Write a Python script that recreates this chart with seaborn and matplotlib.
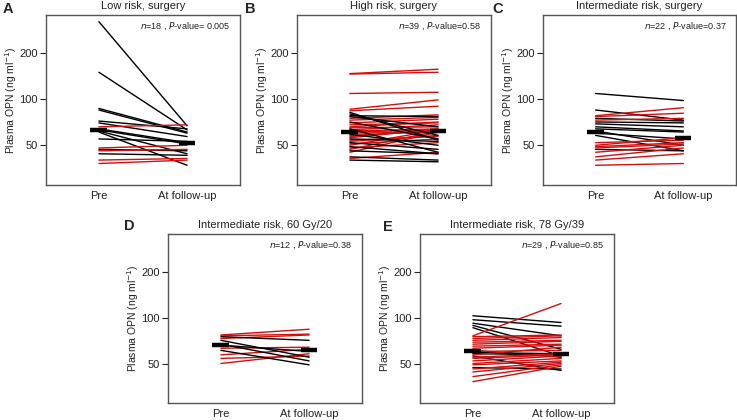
import numpy as np
import pandas as pd
import seaborn as sns
import matplotlib.pyplot as plt
from matplotlib.ticker import NullLocator

sns.set_style("ticks")
plt.rcParams['font.family'] = ['Liberation Sans', 'DejaVu Sans']

RED = '#d01010'
BLACK = '#000000'

# plasma OPN (ng/ml) before and at follow-up
a_pre = [321, 150, 87, 85, 72, 70, 66, 64, 63, 62, 61, 55, 48, 47, 46, 44, 40, 38]
a_post = [67, 63, 61, 60, 64, 57, 68, 52, 51, 44, 37, 53, 50, 46, 47, 43, 41, 40]

b_pre = [147, 146, 109, 86, 84, 82, 80, 78, 77, 75, 73, 71, 70, 68, 66, 65, 64, 63, 62, 61,
         60, 59, 58, 57, 56, 55, 54, 53, 52, 51, 50, 49, 48, 47, 46, 45, 42, 41, 40]
b_post = [157, 150, 111, 99, 90, 54, 58, 77, 66, 79, 76, 55, 74, 70, 71, 66, 45, 68, 64, 63,
          61, 50, 62, 63, 64, 53, 57, 58, 47, 55, 63, 44, 52, 62, 44, 61, 40, 45, 39]

c_pre = [109, 85, 78, 77, 75, 73, 71, 69, 66, 64, 62, 60, 58, 52, 50, 49, 48, 47, 45, 42, 40, 37]
c_post = [98, 73, 88, 81, 72, 75, 70, 66, 62, 61, 50, 55, 46, 54, 56, 52, 51, 46, 50, 48, 44, 38]

d_pre = [77, 76, 75, 73, 71, 67, 66, 63, 61, 57, 54, 50]
d_post = [84, 78, 71, 77, 55, 52, 60, 64, 49, 62, 56, 58]

e_pre = [103, 97, 92, 89, 86, 76, 75, 73, 71, 69, 67, 65, 63, 61, 60, 59, 58, 57, 56, 55,
         54, 52, 50, 49, 47, 46, 44, 41, 38]
e_post = [93, 88, 76, 62, 56, 124, 77, 76, 74, 71, 70, 67, 66, 55, 61, 58, 57, 64, 45, 58,
          57, 56, 54, 52, 46, 51, 50, 49, 48]

panels = [
    ('A', 'Low risk, surgery', a_pre, a_post, '18', '= 0.005'),
    ('B', 'High risk, surgery', b_pre, b_post, '39', '=0.58'),
    ('C', 'Intermediate risk, surgery', c_pre, c_post, '22', '=0.37'),
    ('D', 'Intermediate risk, 60 Gy/20', d_pre, d_post, '12', '=0.38'),
    ('E', 'Intermediate risk, 78 Gy/39', e_pre, e_post, '29', '=0.85'),
]

# axes boxes in pixels: left, top, width, height (figure 737x420)
W, H = 737, 420
boxes = [(46, 15, 194, 170), (297, 15, 194, 170), (543, 15, 193, 170),
         (168, 234, 194, 169), (420, 234, 194, 169)]
letter_pos = [(3, 9), (245, 9), (492, 9), (124, 226), (383, 227)]

fig = plt.figure(figsize=(W / 100, H / 100), dpi=100)

for (letter, title, pre, post, n, p), (l, t, w, h), (lx, ly) in zip(panels, boxes, letter_pos):
    ax = fig.add_axes([l / W, 1 - (t + h) / H, w / W, h / H])
    rows = []
    for i, (v0, v1) in enumerate(zip(pre, post)):
        d = 'up' if v1 > v0 else 'down'
        rows.append({'id': i, 'x': 1, 'val': v0, 'dir': d})
        rows.append({'id': i, 'x': 2, 'val': v1, 'dir': d})
    df = pd.DataFrame(rows)
    sns.lineplot(data=df, x='x', y='val', units='id', estimator=None, hue='dir',
                 palette={'up': RED, 'down': BLACK}, linewidth=1.0, legend=False, ax=ax)
    # median bars
    ax.hlines([np.median(pre), np.median(post)], [0.9, 1.91], [1.09, 2.09],
              colors='black', linewidth=3.2, zorder=5)

    ax.set_yscale('log')
    ax.set_ylim(27.5, 355)
    ax.set_xlim(0.4, 2.6)
    ax.set_yticks([50, 100, 200])
    ax.set_yticklabels(['50', '100', '200'])
    ax.yaxis.set_minor_locator(NullLocator())
    ax.set_xticks([1, 2])
    ax.set_xticklabels(['Pre', 'At follow-up'])
    ax.tick_params(axis='x', length=0, pad=4, labelsize=8, colors='#222222')
    ax.tick_params(axis='y', length=4, width=0.8, pad=2, labelsize=8, colors='#222222')
    ax.set_xlabel('')
    ax.set_ylabel('Plasma OPN (ng ml$^{-1}$)', fontsize=7.5, color='#222222', labelpad=0)
    for s in ax.spines.values():
        s.set_color('#555555')
        s.set_linewidth(1.0)
        s.set_visible(True)
    ax.set_title(title, fontsize=8, pad=4, color='#222222')
    ax.text(0.95, 0.935, '$n$=' + n + ' , $P$-value' + p, transform=ax.transAxes,
            ha='right', va='center', fontsize=6.5, color='#222222')
    fig.text(lx / W, 1 - ly / H, letter, fontsize=10.5, fontweight='bold', va='center', ha='left')

fig.savefig('out.png', dpi=100)
